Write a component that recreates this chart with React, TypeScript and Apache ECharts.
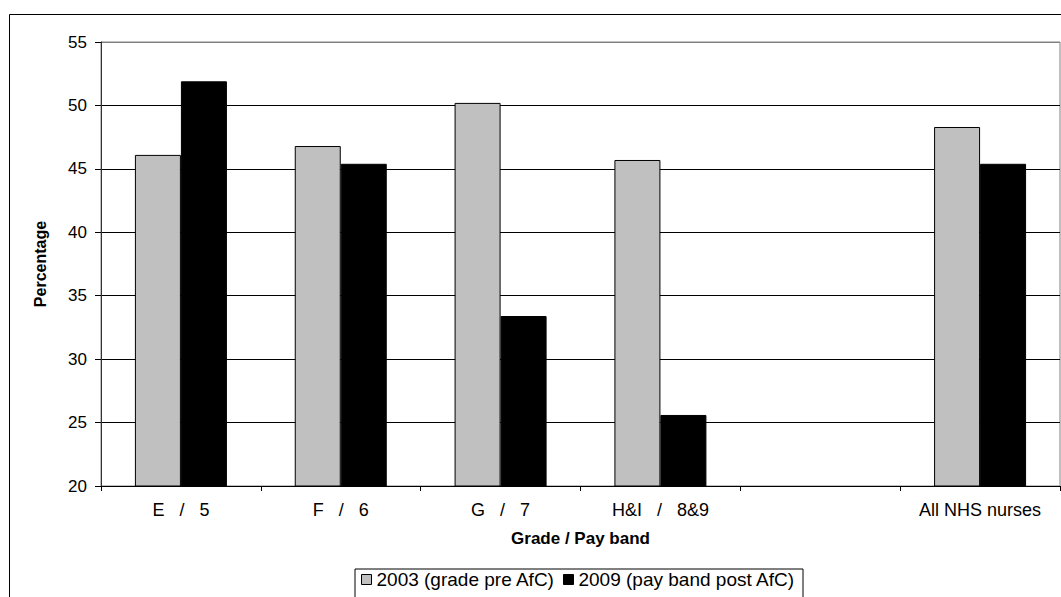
import React, { useEffect, useRef } from "react";
import * as echarts from "echarts";

const categories = ["E   /   5", "F   /   6", "G   /   7", "H&I   /   8&9", "", "All NHS nurses"];
const series2003 = [46.1, 46.8, 50.2, 45.7, null, 48.3];
const series2009 = [51.9, 45.4, 33.4, 25.6, null, 45.4];
const seriesNames = ["2003 (grade pre AfC)", "2009 (pay band post AfC)"];
const yMin = 20;
const yMax = 55;
const yInterval = 5;

const FONT = "'Liberation Sans', Arial, sans-serif";

export default function App() {
  const ref = useRef<HTMLDivElement>(null);

  useEffect(() => {
    if (!ref.current) return;
    const chart = echarts.init(ref.current, undefined, { renderer: "svg" });
    chart.setOption({
      animation: false,
      backgroundColor: "#ffffff",
      textStyle: { fontFamily: FONT },
      graphic: [
        {
          type: "rect",
          shape: { x: 9.5, y: 14.5, width: 1200, height: 800 },
          style: { fill: "none", stroke: "#000", lineWidth: 1 },
          silent: true,
          z: 0,
        },
      ],
      grid: {
        left: 101,
        top: 42,
        right: 1,
        bottom: 111,
        show: true,
        borderColor: "#808080",
        borderWidth: 1,
        backgroundColor: "transparent",
      },
      legend: {
        left: 355,
        top: 569,
        data: seriesNames,
        icon: "rect",
        itemWidth: 10,
        itemHeight: 10,
        itemGap: 8,
        padding: [1, 8, 12, 6],
        borderColor: "#000",
        borderWidth: 1,
        textStyle: { fontFamily: FONT, fontSize: 19, color: "#000" },
        itemStyle: { borderColor: "#000", borderWidth: 1 },
      },
      xAxis: {
        type: "category",
        data: categories,
        boundaryGap: true,
        name: "Grade / Pay band",
        nameLocation: "middle",
        nameGap: 44,
        nameTextStyle: { fontFamily: FONT, fontSize: 17, fontWeight: "bold", color: "#000" },
        axisLine: { lineStyle: { color: "#000", width: 1 } },
        axisTick: { show: true, length: 5, lineStyle: { color: "#000" } },
        axisLabel: { fontFamily: FONT, fontSize: 18, color: "#000", margin: 15, interval: 0 },
        splitLine: { show: false },
      },
      yAxis: {
        type: "value",
        min: yMin,
        max: yMax,
        interval: yInterval,
        name: "Percentage",
        nameLocation: "middle",
        nameRotate: 90,
        nameGap: 53,
        nameTextStyle: { fontFamily: FONT, fontSize: 16, fontWeight: "bold", color: "#000" },
        axisLine: { show: true, lineStyle: { color: "#333", width: 1 } },
        axisTick: { show: true, length: 6, lineStyle: { color: "#000" } },
        axisLabel: { fontFamily: FONT, fontSize: 17, color: "#000", margin: 14 },
        splitLine: {
          show: true,
          lineStyle: {
            color: ["#000", "#000", "#000", "#000", "#000", "#000", "#000", "#808080"],
            width: 1,
          },
        },
      },
      series: [
        {
          name: seriesNames[0],
          type: "bar",
          data: series2003,
          barWidth: 46,
          barGap: "0%",
          itemStyle: { color: "#C0C0C0", borderColor: "#000", borderWidth: 1 },
        },
        {
          name: seriesNames[1],
          type: "bar",
          data: series2009,
          barWidth: 46,
          barGap: "0%",
          itemStyle: { color: "#000000", borderColor: "#000", borderWidth: 1 },
        },
      ],
    });
    return () => chart.dispose();
  }, []);

  return (
    <div
      ref={ref}
      style={{ position: "absolute", left: 0, top: 0, width: 1061, height: 597 }}
    />
  );
}
